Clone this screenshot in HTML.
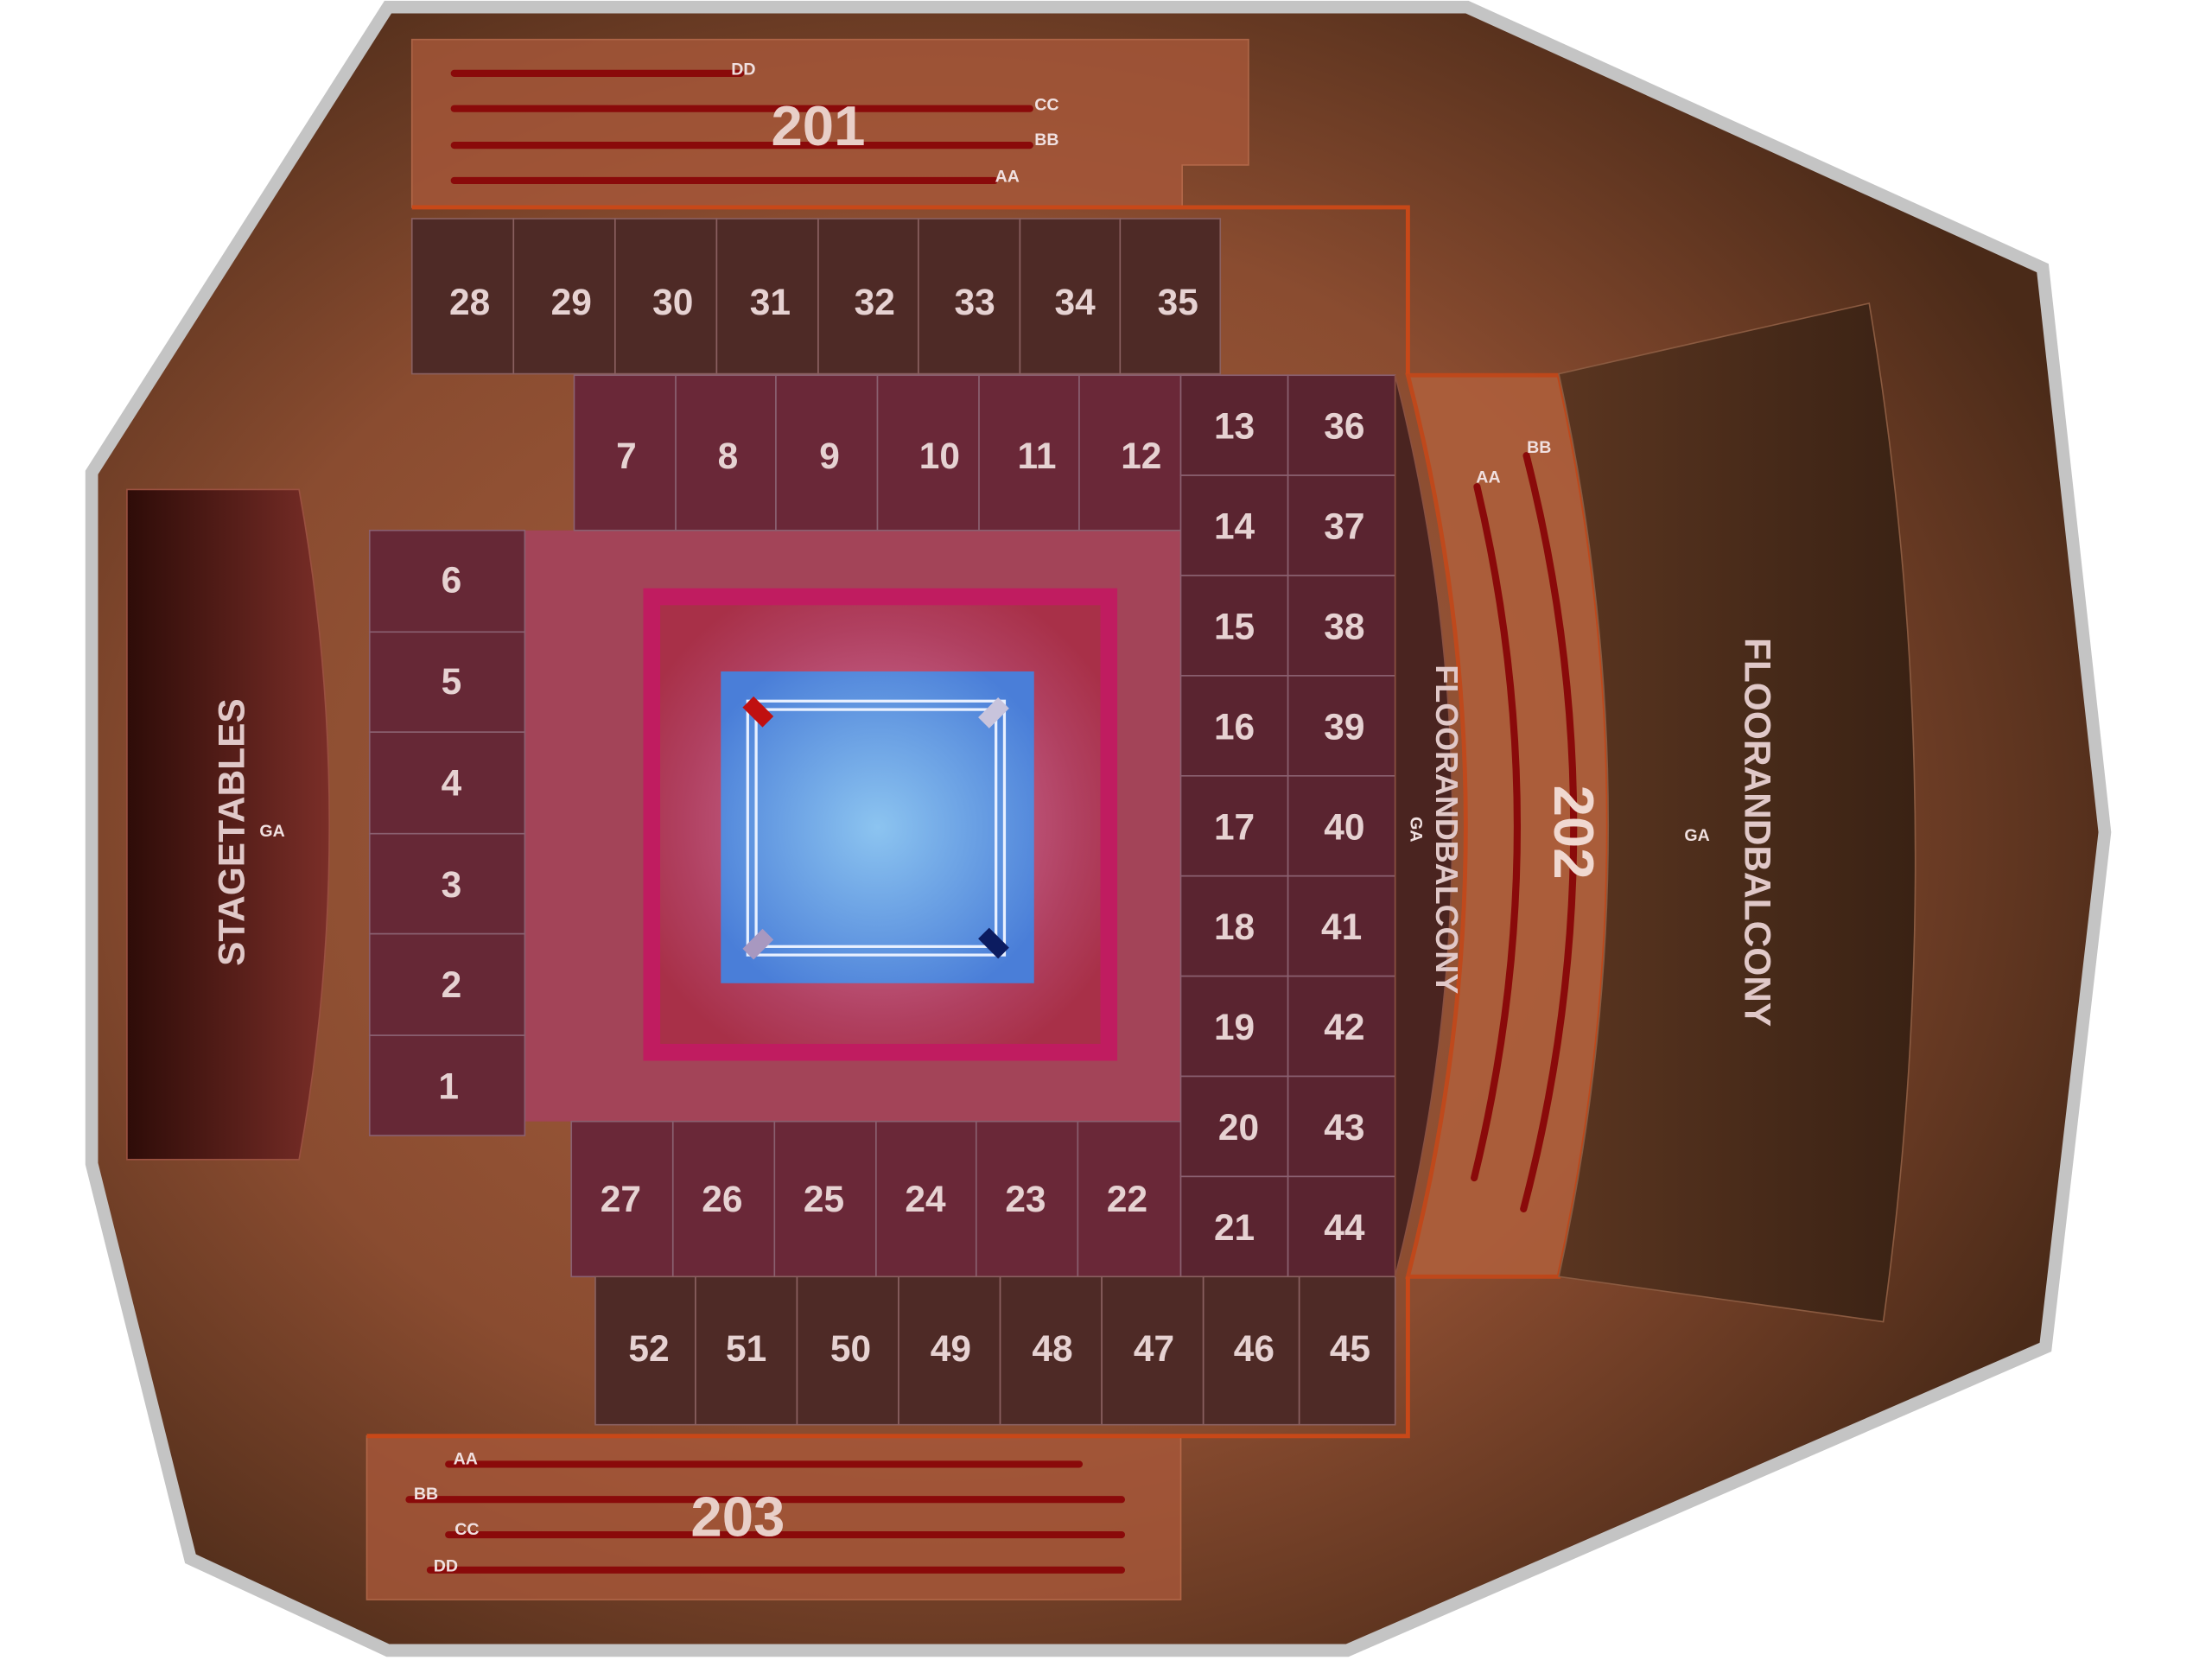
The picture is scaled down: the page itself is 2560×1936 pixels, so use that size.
<!DOCTYPE html>
<html><head><meta charset="utf-8"><style>
html,body{margin:0;padding:0;background:#fff;width:2560px;height:1936px;overflow:hidden}
svg{display:block}
text{font-family:"Liberation Sans",sans-serif;font-weight:bold}
.n{fill:#e6d2d2;font-size:26px;text-anchor:middle}
.s{fill:#f0e0e0;font-size:12px;text-anchor:middle}
</style></head><body>
<svg width="2560" height="1936" viewBox="0 0 1568 1186" preserveAspectRatio="none">
<defs>
<radialGradient id="bg" cx="0.42" cy="0.5" r="0.62">
<stop offset="0" stop-color="#a8603f"/><stop offset="0.6" stop-color="#8a4c30"/><stop offset="1" stop-color="#4a2a18"/></radialGradient>
<linearGradient id="rdark" x1="0" x2="1"><stop offset="0" stop-color="#5a3520"/><stop offset="1" stop-color="#3a2214"/></linearGradient>
<linearGradient id="stg" x1="0" x2="1"><stop offset="0" stop-color="#2e0c08"/><stop offset="1" stop-color="#7a2e28"/></linearGradient>
<radialGradient id="blue" cx="0.5" cy="0.5" r="0.6"><stop offset="0" stop-color="#8cc4f0"/><stop offset="1" stop-color="#4a7ed8"/></radialGradient>
<radialGradient id="ring" cx="0.5" cy="0.5" r="0.6"><stop offset="0.45" stop-color="#c05a80"/><stop offset="0.75" stop-color="#b04060"/><stop offset="1" stop-color="#a83048"/></radialGradient>
</defs>
<polygon points="275,5 1040,5 1448,190 1492,590 1450,955 955,1170 275,1170 135,1105 65,825 65,335" fill="url(#bg)" stroke="#c4c4c4" stroke-width="9"/>
<!-- 201 -->
<polygon points="292,28 885,28 885,117 838,117 838,147 292,147" fill="#a8583a" opacity="0.8" stroke="#c07050" stroke-width="1"/>
<polyline points="292,147 998,147 998,265" fill="none" stroke="#c84818" stroke-width="3"/>
<g stroke="#8a0a0a" stroke-width="5" stroke-linecap="round">
<line x1="322" y1="52" x2="525" y2="52"/><line x1="322" y1="77" x2="730" y2="77"/><line x1="322" y1="103" x2="730" y2="103"/><line x1="322" y1="128" x2="705" y2="128"/></g>
<text class="s" x="527" y="53">DD</text><text class="s" x="742" y="78">CC</text><text class="s" x="742" y="103">BB</text><text class="s" x="714" y="129">AA</text>
<text x="580" y="103" font-size="40" fill="#e8cfc8" text-anchor="middle">201</text>
<!-- 203 -->
<rect x="260" y="1018" width="577" height="116" fill="#a8583a" opacity="0.8" stroke="#c07050"/>
<polyline points="260,1018 998,1018 998,905" fill="none" stroke="#c84818" stroke-width="3"/>
<g stroke="#8a0a0a" stroke-width="5" stroke-linecap="round">
<line x1="318" y1="1038" x2="765" y2="1038"/><line x1="290" y1="1063" x2="795" y2="1063"/><line x1="318" y1="1088" x2="795" y2="1088"/><line x1="305" y1="1113" x2="795" y2="1113"/></g>
<text class="s" x="330" y="1038">AA</text><text class="s" x="302" y="1063">BB</text><text class="s" x="331" y="1088">CC</text><text class="s" x="316" y="1114">DD</text>
<text x="523" y="1089" font-size="40" fill="#e8cfc8" text-anchor="middle">203</text>
<!-- floor -->
<rect x="372" y="376" width="465" height="419" fill="#a34458"/>
<rect x="456" y="417" width="336" height="335" fill="#c01c60"/>
<rect x="468" y="429" width="312" height="311" fill="url(#ring)"/>
<rect x="511" y="476" width="222" height="221" fill="url(#blue)"/>
<rect x="530" y="497" width="182" height="180" fill="none" stroke="#e8f0ff" stroke-width="2"/>
<rect x="536" y="503" width="170" height="168" fill="none" stroke="#e8f0ff" stroke-width="2"/>
<rect x="532" y="495" width="11" height="20" fill="#c01010" transform="rotate(-45 537 505)"/><rect x="699" y="495" width="11" height="20" fill="#c8c4dc" transform="rotate(45 704 505)"/>
<rect x="532" y="659" width="11" height="20" fill="#a898c0" transform="rotate(45 537 669)"/><rect x="699" y="659" width="11" height="20" fill="#0c1c60" transform="rotate(-45 704 669)"/>
<!-- rows -->
<g stroke="#8a6060" stroke-width="1" fill="#4e2a26">
<rect x="292" y="155" width="72" height="110"/><rect x="364" y="155" width="72" height="110"/><rect x="436" y="155" width="72" height="110"/><rect x="508" y="155" width="72" height="110"/><rect x="580" y="155" width="71" height="110"/><rect x="651" y="155" width="72" height="110"/><rect x="723" y="155" width="71" height="110"/><rect x="794" y="155" width="71" height="110"/>
</g>
<text class="n" x="333" y="223">28</text><text class="n" x="405" y="223">29</text><text class="n" x="477" y="223">30</text><text class="n" x="546" y="223">31</text><text class="n" x="620" y="223">32</text><text class="n" x="691" y="223">33</text><text class="n" x="762" y="223">34</text><text class="n" x="835" y="223">35</text>
<g stroke="#8a6070" stroke-width="1" fill="#6a2838">
<rect x="407" y="266" width="72" height="110"/><rect x="479" y="266" width="71" height="110"/><rect x="550" y="266" width="72" height="110"/><rect x="622" y="266" width="72" height="110"/><rect x="694" y="266" width="71" height="110"/><rect x="765" y="266" width="72" height="110"/>
<rect x="405" y="795" width="72" height="110"/><rect x="477" y="795" width="72" height="110"/><rect x="549" y="795" width="72" height="110"/><rect x="621" y="795" width="71" height="110"/><rect x="692" y="795" width="72" height="110"/><rect x="764" y="795" width="73" height="110"/>
</g>
<text class="n" x="444" y="332">7</text><text class="n" x="516" y="332">8</text><text class="n" x="588" y="332">9</text><text class="n" x="666" y="332">10</text><text class="n" x="735" y="332">11</text><text class="n" x="809" y="332">12</text>
<text class="n" x="440" y="859">27</text><text class="n" x="512" y="859">26</text><text class="n" x="584" y="859">25</text><text class="n" x="656" y="859">24</text><text class="n" x="727" y="859">23</text><text class="n" x="799" y="859">22</text>
<g stroke="#8a6070" stroke-width="1" fill="#662836">
<rect x="262" y="376" width="110" height="72"/><rect x="262" y="448" width="110" height="71"/><rect x="262" y="519" width="110" height="72"/><rect x="262" y="591" width="110" height="71"/><rect x="262" y="662" width="110" height="72"/><rect x="262" y="734" width="110" height="71"/>
</g>
<text class="n" x="320" y="420">6</text><text class="n" x="320" y="492">5</text><text class="n" x="320" y="564">4</text><text class="n" x="320" y="636">3</text><text class="n" x="320" y="707">2</text><text class="n" x="318" y="779">1</text>
<g stroke="#8a6070" stroke-width="1" fill="#5a2430">
<rect x="837" y="266" width="76" height="71"/><rect x="837" y="337" width="76" height="71"/><rect x="837" y="408" width="76" height="71"/><rect x="837" y="479" width="76" height="71"/><rect x="837" y="550" width="76" height="71"/><rect x="837" y="621" width="76" height="71"/><rect x="837" y="692" width="76" height="71"/><rect x="837" y="763" width="76" height="71"/><rect x="837" y="834" width="76" height="71"/>
<rect x="913" y="266" width="76" height="71"/><rect x="913" y="337" width="76" height="71"/><rect x="913" y="408" width="76" height="71"/><rect x="913" y="479" width="76" height="71"/><rect x="913" y="550" width="76" height="71"/><rect x="913" y="621" width="76" height="71"/><rect x="913" y="692" width="76" height="71"/><rect x="913" y="763" width="76" height="71"/><rect x="913" y="834" width="76" height="71"/>
</g>
<text class="n" x="875" y="311">13</text><text class="n" x="875" y="382">14</text><text class="n" x="875" y="453">15</text><text class="n" x="875" y="524">16</text><text class="n" x="875" y="595">17</text><text class="n" x="875" y="666">18</text><text class="n" x="875" y="737">19</text><text class="n" x="878" y="808">20</text><text class="n" x="875" y="879">21</text>
<text class="n" x="953" y="311">36</text><text class="n" x="953" y="382">37</text><text class="n" x="953" y="453">38</text><text class="n" x="953" y="524">39</text><text class="n" x="953" y="595">40</text><text class="n" x="951" y="666">41</text><text class="n" x="953" y="737">42</text><text class="n" x="953" y="808">43</text><text class="n" x="953" y="879">44</text>
<g stroke="#8a6060" stroke-width="1" fill="#4e2a26">
<rect x="422" y="905" width="71" height="105"/><rect x="493" y="905" width="72" height="105"/><rect x="565" y="905" width="72" height="105"/><rect x="637" y="905" width="72" height="105"/><rect x="709" y="905" width="72" height="105"/><rect x="781" y="905" width="72" height="105"/><rect x="853" y="905" width="68" height="105"/><rect x="921" y="905" width="68" height="105"/>
</g>
<text class="n" x="460" y="965">52</text><text class="n" x="529" y="965">51</text><text class="n" x="603" y="965">50</text><text class="n" x="674" y="965">49</text><text class="n" x="746" y="965">48</text><text class="n" x="818" y="965">47</text><text class="n" x="889" y="965">46</text><text class="n" x="957" y="965">45</text>
<!-- stagetables -->
<path d="M90,347 L212,347 Q255,585 212,822 L90,822 Z" fill="url(#stg)" stroke="#9a5040" stroke-width="1"/>
<text x="173" y="590" font-size="26" fill="#e0c8c8" text-anchor="middle" transform="rotate(-90 173 590)">STAGETABLES</text>
<text class="s" x="193" y="593">GA</text>
<!-- floor & balcony left -->
<path d="M989,266 Q1070,585 989,905 Z" fill="#4a2420" stroke="#8a5040" stroke-width="1"/>
<path d="M998,266 L1105,266 Q1175,585 1105,905 L998,905 Q1080,585 998,266 Z" fill="#b0603c" opacity="0.85" stroke="#c84818" stroke-width="3"/>
<path d="M1047,345 Q1105,590 1045,835" fill="none" stroke="#8a0a0a" stroke-width="5" stroke-linecap="round"/>
<path d="M1082,323 Q1150,590 1080,857" fill="none" stroke="#8a0a0a" stroke-width="5" stroke-linecap="round"/>
<text class="s" x="1055" y="342">AA</text><text class="s" x="1091" y="321">BB</text>
<text x="1018" y="588" font-size="22" fill="#e0c8c8" text-anchor="middle" transform="rotate(90 1018 588)">FLOORANDBALCONY</text>
<text class="s" x="1000" y="588" transform="rotate(90 1000 588)">GA</text>
<text x="1102" y="590" font-size="40" fill="#f0d8d0" text-anchor="middle" transform="rotate(90 1102 590)">202</text>
<!-- right balcony -->
<path d="M1105,265 L1325,215 Q1385,575 1335,937 L1105,905 Q1175,585 1105,265 Z" fill="url(#rdark)" stroke="#8a5a40" stroke-width="1"/>
<text x="1237" y="590" font-size="26" fill="#e0c8c8" text-anchor="middle" transform="rotate(90 1237 590)">FLOORANDBALCONY</text>
<text class="s" x="1203" y="596">GA</text>
</svg>
</body></html>
